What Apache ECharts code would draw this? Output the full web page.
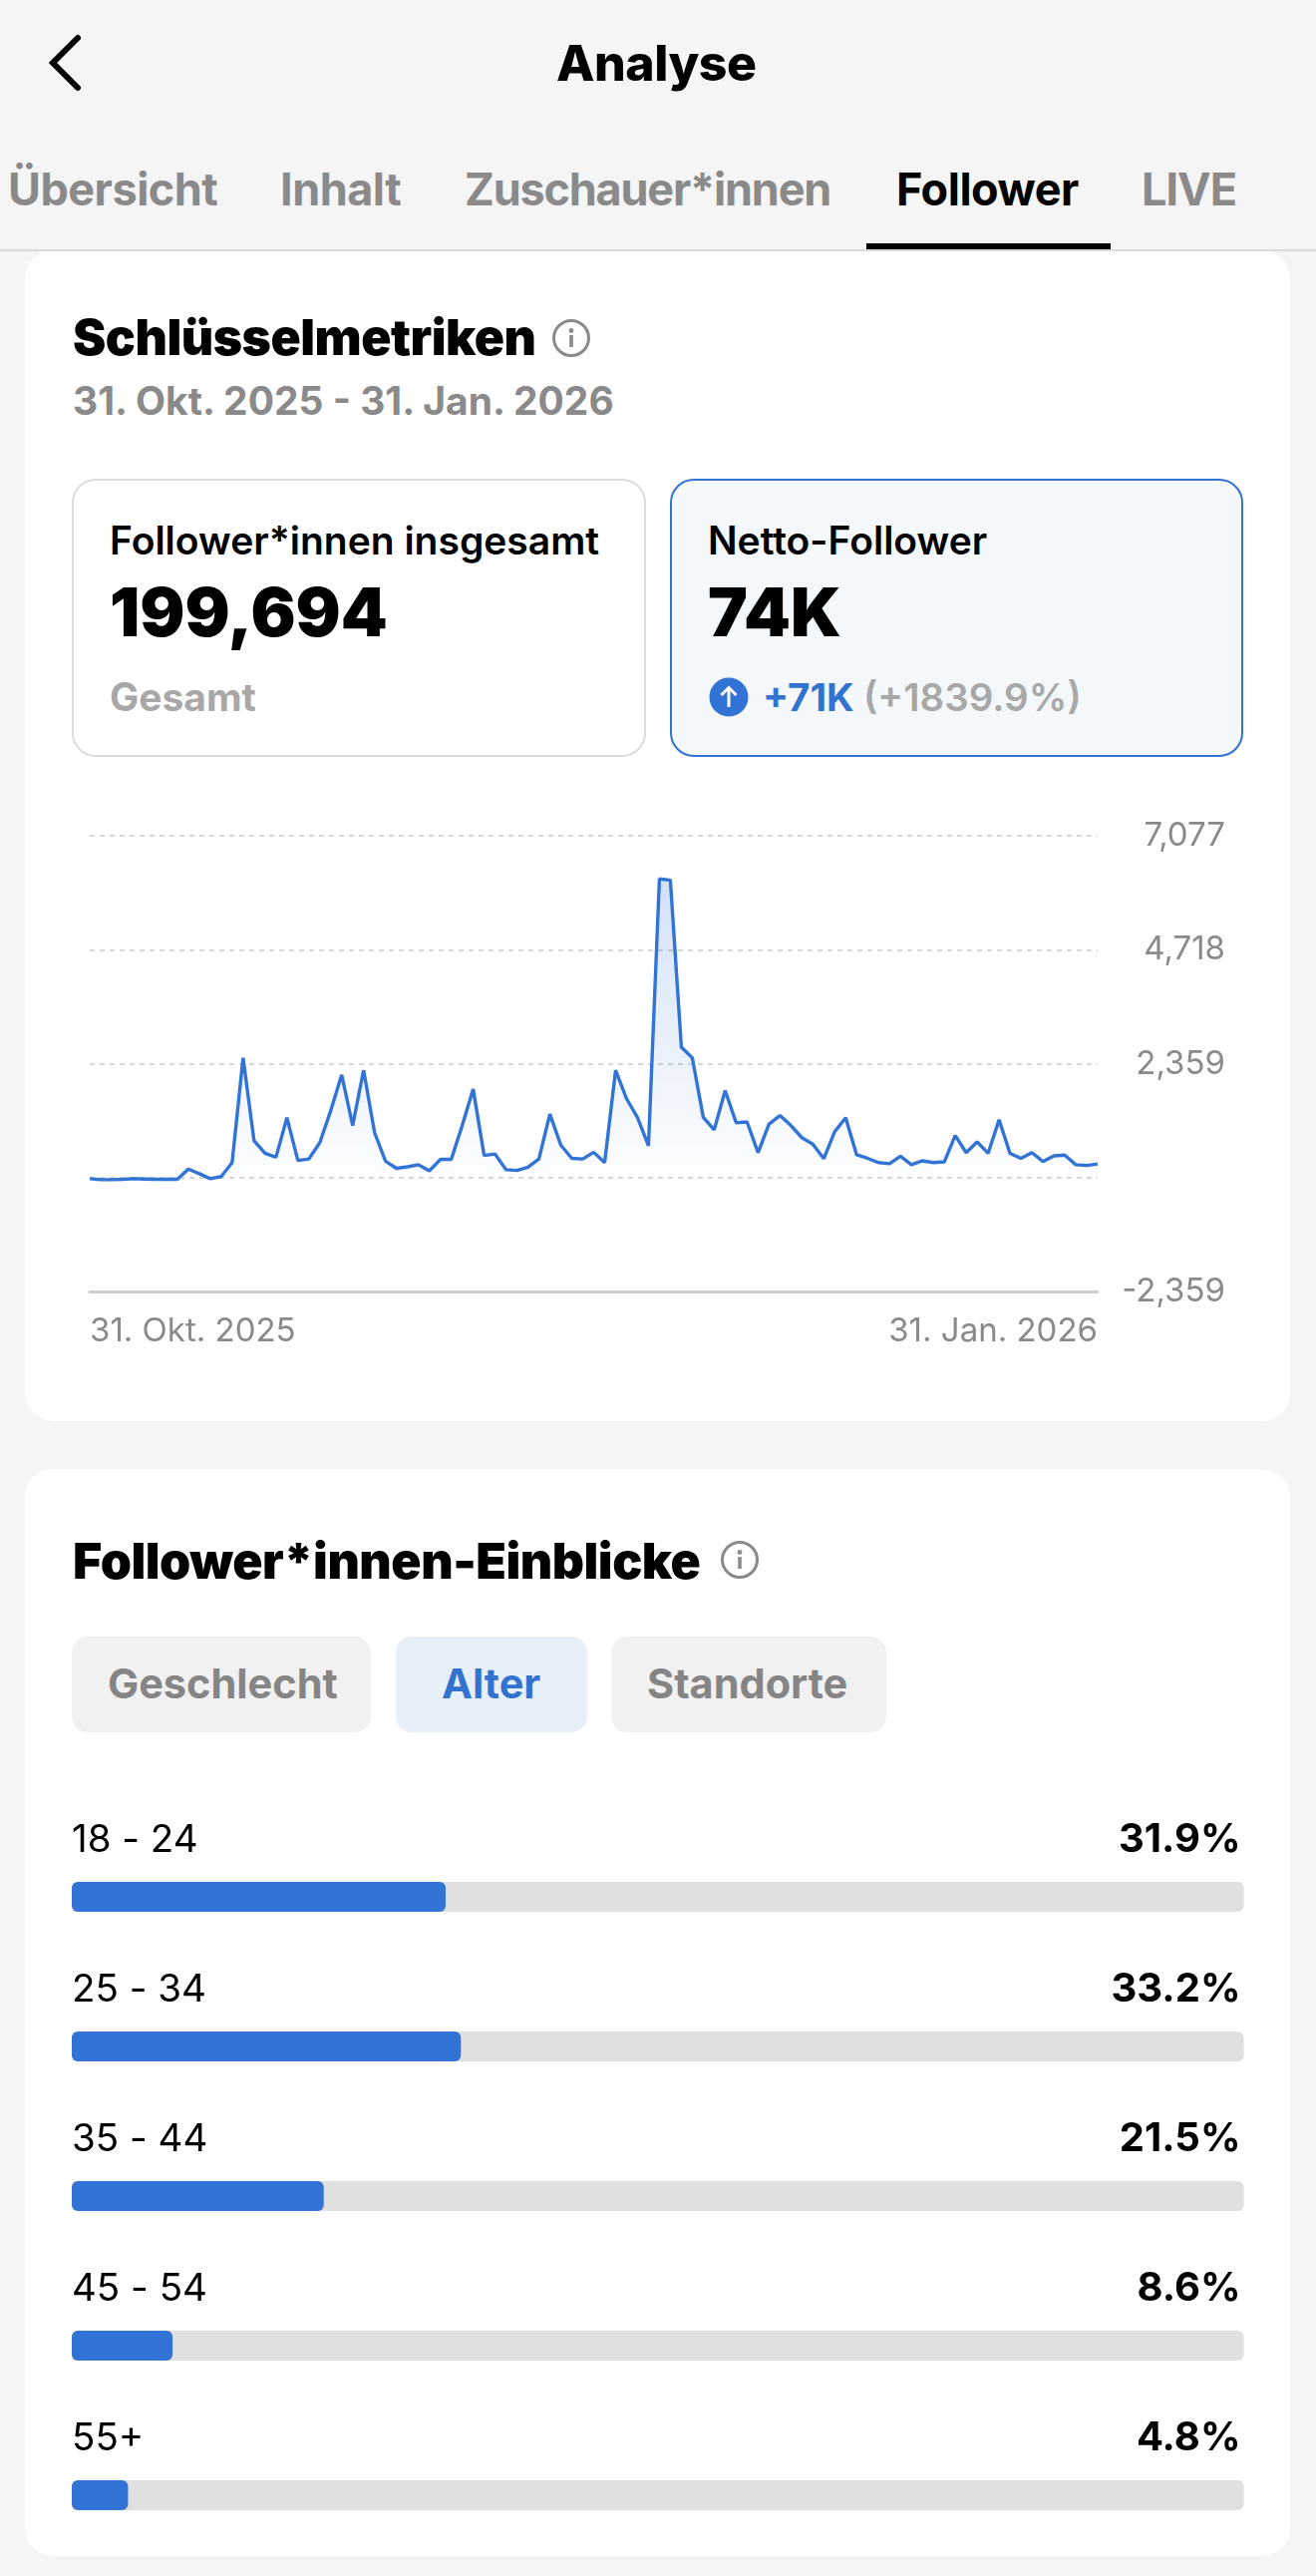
<!DOCTYPE html>
<html lang="de">
<head>
<meta charset="utf-8">
<title>Analyse</title>
<script src="https://cdn.jsdelivr.net/npm/echarts@6/dist/echarts.min.js"></script>
<style>
    html, body { margin: 0; padding: 0; background: #f5f5f5; }
    body { position: relative; width: 1320px; height: 2583px; overflow: hidden; font-family: Inter, "Noto Sans", sans-serif; color: #000; }
    .t { position: absolute; white-space: nowrap; transform: translateY(-50%); line-height: 1.2; }
    .box { position: absolute; box-sizing: border-box; }
    .tab { font-size: 45px; font-weight: 700; color: #8a8a8a; letter-spacing: -0.5px; }
    .heavy { font-weight: 800; letter-spacing: -0.5px; }
    .title { font-weight: 900; font-size: 50px; letter-spacing: -0.5px; }
    .pill { font-size: 41.5px; font-weight: 700; color: #858585; }
    svg.icon { position: absolute; }
    #net-chart { position: absolute; left: 0; top: 780px; width: 1320px; height: 620px; }
    #age-chart { position: absolute; left: 0; top: 1790px; width: 1320px; height: 790px; }
</style>
</head>
<body>
    <svg class="icon" style="left:44px;top:32px" width="44" height="62" viewBox="0 0 44 62">
        <path d="M34 6 L9 31 L34 56" fill="none" stroke="#000" stroke-width="6" stroke-linecap="round" stroke-linejoin="miter"/>
    </svg>
    <div class="t heavy" style="left:558px;top:63px;font-size:50px">Analyse</div>

    <div class="t tab" style="left:8px;top:190px">Übersicht</div>
    <div class="t tab" style="left:281px;top:190px">Inhalt</div>
    <div class="t tab" style="left:466px;top:190px;letter-spacing:-1.2px">Zuschauer*innen</div>
    <div class="t tab" style="left:899px;top:190px;color:#000">Follower</div>
    <div class="t tab" style="left:1145px;top:190px;letter-spacing:-1px">LIVE</div>

    <div class="box" style="left:25px;top:251px;width:1269px;height:1174px;background:#fff;border-radius:28px"></div>
    <div class="box" style="left:0;top:250px;width:1320px;height:2px;background:#d9d9d9"></div>
    <div class="box" style="left:869px;top:244px;width:245px;height:6px;background:#000"></div>

    <div class="t title" style="left:73px;top:338px">Schlüsselmetriken</div>
    <svg class="icon" style="left:553px;top:319px" width="40" height="40" viewBox="0 0 40 40">
        <circle cx="20" cy="20" r="17.5" fill="none" stroke="#8a8a8a" stroke-width="3"/>
        <circle cx="20" cy="12.5" r="2.4" fill="#8a8a8a"/>
        <rect x="18.2" y="17" width="3.6" height="12" fill="#8a8a8a"/>
    </svg>
    <div class="t" style="left:73px;top:402px;font-size:39px;font-weight:700;color:#8a8a8a">31. Okt. 2025 - 31. Jan. 2026</div>

    <div class="box" style="left:72px;top:480px;width:576px;height:279px;border:2px solid #dcdcdc;border-radius:24px;background:#fff"></div>
    <div class="box" style="left:672px;top:480px;width:575px;height:279px;border:2px solid #3273d0;border-radius:24px;background:#f4f8fb"></div>

    <div class="t" style="left:110px;top:542px;font-size:39px;font-weight:600">Follower*innen insgesamt</div>
    <div class="t" style="left:110px;top:614px;font-size:67px;font-weight:900">199,694</div>
    <div class="t" style="left:110px;top:699px;font-size:39px;font-weight:700;color:#a8a8a8">Gesamt</div>

    <div class="t" style="left:710px;top:542px;font-size:39px;font-weight:600">Netto-Follower</div>
    <div class="t" style="left:710px;top:614px;font-size:67px;font-weight:900">74K</div>
    <svg class="icon" style="left:711px;top:679px" width="40" height="40" viewBox="0 0 40 40">
        <circle cx="20" cy="20" r="19.5" fill="#3273d6"/>
        <path d="M20 30 V11 M12.5 18 L20 10.5 L27.5 18" fill="none" stroke="#fff" stroke-width="3"/>
    </svg>
    <div class="t" style="left:765px;top:699px;font-size:38.5px;font-weight:700;color:#3273d0">+71K</div>
    <div class="t" style="left:866px;top:699px;font-size:38.5px;font-weight:600;color:#a8a8a8">(+1839.9%)</div>

    <div class="box" style="left:25px;top:1473px;width:1269px;height:1090px;background:#fff;border-radius:28px"></div>
    <div class="t title" style="left:73px;top:1565px">Follower*innen-Einblicke</div>
    <svg class="icon" style="left:722px;top:1544px" width="40" height="40" viewBox="0 0 40 40">
        <circle cx="20" cy="20" r="17.5" fill="none" stroke="#8a8a8a" stroke-width="3"/>
        <circle cx="20" cy="12.5" r="2.4" fill="#8a8a8a"/>
        <rect x="18.2" y="17" width="3.6" height="12" fill="#8a8a8a"/>
    </svg>

    <div class="box" style="left:72px;top:1641px;width:300px;height:96px;background:#f1f1f1;border-radius:16px"></div>
    <div class="box" style="left:397px;top:1641px;width:192px;height:96px;background:#e7f0f9;border-radius:16px"></div>
    <div class="box" style="left:613px;top:1641px;width:276px;height:96px;background:#f1f1f1;border-radius:16px"></div>
    <div class="t pill" style="left:108px;top:1689px">Geschlecht</div>
    <div class="t pill" style="left:443px;top:1689px;color:#3273d0">Alter</div>
    <div class="t pill" style="left:649px;top:1689px">Standorte</div>

    <div id="net-chart"></div>
    <div id="age-chart"></div>

<script>
// Netto-Follower pro Tag, 31. Okt. 2025 - 31. Jan. 2026
var netFollowers = [
    -15, -37, -37, -29, -15, -22, -29, -29, -29, 184, 88, -15, 29, 317, 2484, 767,
    509, 428, 1246, 361, 391, 730, 1393, 2130, 1084, 2226, 936, 346, 199, 229, 273,
    147, 383, 383, 1084, 1836, 464, 494, 170, 155, 221, 391, 1320, 678, 405, 391,
    531, 317, 2226, 1637, 1246, 663, 6185, 6156, 2706, 2484, 1253, 995, 1806, 1143,
    1157, 523, 1113, 1290, 1084, 833, 700, 398, 958, 1246, 479, 405, 317, 295, 450,
    273, 354, 317, 332, 877, 523, 745, 509, 1202, 509, 405, 523, 339, 457, 472, 273,
    258, 288
];
var dateLabels = ['31. Okt. 2025', '31. Jan. 2026'];
var yMin = -2359;
var yMax = 7077;
var yStep = 2359;

var ageGroups = ['18 - 24', '25 - 34', '35 - 44', '45 - 54', '55+'];
var agePercent = [31.9, 33.2, 21.5, 8.6, 4.8];
var fullBar = [100, 100, 100, 100, 100];

var fontName = 'Inter, "Noto Sans", sans-serif';
var blue = '#3273d6';
var gray = '#8a8a8a';

var netChart = echarts.init(document.getElementById('net-chart'));
var ageChart = echarts.init(document.getElementById('age-chart'));

netChart.setOption({
    animation: false,
    grid: { left: 90, right: 219, top: 58, height: 457.5 },
    xAxis: {
        type: 'category',
        boundaryGap: false,
        data: netFollowers.map(function (v, i) { return i; }),
        axisLine: { onZero: false, lineStyle: { color: '#cfcfcf', width: 3 } },
        axisTick: { show: false },
        splitLine: { show: false },
        axisLabel: {
            interval: function (i) { return i === 0 || i === netFollowers.length - 1; },
            formatter: function (v, i) { return i === 0 ? dateLabels[0] : dateLabels[1]; },
            alignMinLabel: 'left',
            alignMaxLabel: 'right',
            color: gray,
            fontFamily: fontName,
            fontSize: 33,
            margin: 23
        }
    },
    yAxis: {
        type: 'value',
        position: 'right',
        min: yMin,
        max: yMax,
        interval: yStep,
        axisLine: { show: false },
        axisTick: { show: false },
        splitLine: { lineStyle: { color: '#c9c9c9', width: 1.5, type: [5, 5] } },
        axisLabel: {
            align: 'right',
            margin: 128,
            color: gray,
            fontFamily: fontName,
            fontSize: 33,
            // the app leaves the zero line without a label
            formatter: function (v) { return v === 0 ? '' : v.toLocaleString('en-US'); }
        }
    },
    series: [{
        type: 'line',
        data: netFollowers,
        symbol: 'none',
        smooth: false,
        lineStyle: { color: blue, width: 3.4 },
        areaStyle: {
            color: new echarts.graphic.LinearGradient(0, 0, 0, 1, [
                { offset: 0, color: 'rgba(50,115,214,0.3)' },
                { offset: 1, color: 'rgba(50,115,214,0.01)' }
            ])
        }
    }]
});

ageChart.setOption({
    animation: false,
    grid: { left: 72, right: 72.5, top: 37, height: 750 },
    xAxis: { type: 'value', min: 0, max: 100, show: false },
    yAxis: { type: 'category', inverse: true, data: ageGroups, show: false },
    series: [
        {
            // grey track, carries the percent on the right
            type: 'bar',
            data: fullBar,
            barWidth: 30,
            barGap: '-100%',
            silent: true,
            itemStyle: { color: '#e0e0e0', borderRadius: 6 },
            label: {
                show: true,
                position: 'insideTopRight',
                distance: 0,
                offset: [-3, -62],
                color: '#000',
                fontFamily: fontName,
                fontSize: 40,
                fontWeight: 700,
                formatter: function (p) { return agePercent[p.dataIndex] + '%'; }
            }
        },
        {
            type: 'bar',
            data: agePercent,
            barWidth: 30,
            itemStyle: { color: blue, borderRadius: 6 },
            label: {
                show: true,
                position: [0, -61],
                color: '#000',
                fontFamily: fontName,
                fontSize: 38.5,
                formatter: '{b}'
            }
        }
    ]
});
</script>
</body>
</html>
